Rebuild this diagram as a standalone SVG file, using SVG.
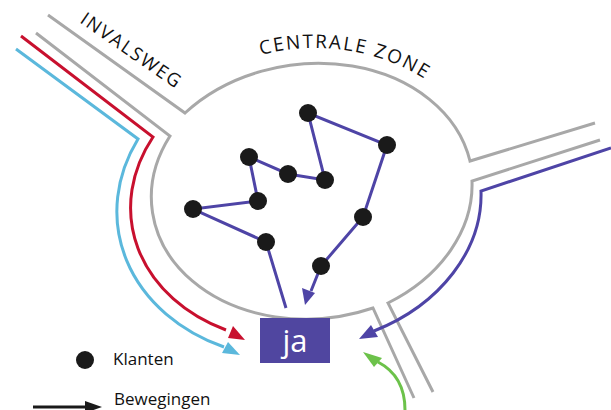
<svg xmlns="http://www.w3.org/2000/svg" width="611" height="410" viewBox="0 0 611 410">
<style>
.road{fill:none;stroke:#a8a8a8;stroke-width:3;stroke-linejoin:miter}
.mv{fill:none;stroke-width:3;stroke-linejoin:miter}
.dot{fill:#1a1a1a}
.lbl{font-family:"Open Sans","Noto Sans","Liberation Sans",sans-serif;fill:#111111}
</style>
<defs>
<path id="arcText" d="M134,200 A181 152 0 0 1 496,200"/>
</defs>
<rect width="611" height="410" fill="#ffffff"/>
<g id="roads">
<path class="road" d="M48,15 L185,113 A166 130 -8 0 1 470,161 L595,123"/>
<path class="road" d="M600,140 L472,181 A166 130 -8 0 1 388,303 L433,392"/>
<path class="road" d="M414,398 L373,308 A166 130 -8 0 1 170,136 L36,33"/>
</g>
<g id="labels">
<text class="lbl" font-size="18.5" transform="translate(79,22) rotate(34.6)" textLength="117" lengthAdjust="spacing">INVALSWEG</text>
<text class="lbl" font-size="19" letter-spacing="1.9"><textPath href="#arcText" startOffset="207">CENTRALE ZONE</textPath></text>
</g>
<g id="connectors">
<path class="mv" stroke="#c8102e" d="M21,36 L153,137 A179 143 -8 0 0 226,330"/>
<polygon fill="#c8102e" points="245,340 233,326 228,338"/>
<path class="mv" stroke="#5bb8dc" d="M16,49 L138,139 A192 156 -8 0 0 224,347"/>
<polygon fill="#5bb8dc" points="240,355 228,342 222,353"/>
<path class="mv" stroke="#4e44a6" d="M611,148 L481,191 A177 142 -8 0 1 374,331"/>
<polygon fill="#4e44a6" points="359,339 371,325 378,337"/>
<path class="mv" stroke="#6cc24a" d="M405,410 C405,390 397,372 378,362"/>
<polygon fill="#6cc24a" points="363,352 382,358 374,367"/>
<path class="mv" stroke="#4e44a6" d="M286,308 L266,242 L193,209 L258,201 L249,157 L288,174 L325,180 L308,113 L387,145 L363,217 L321,266 L311,291"/>
<polygon fill="#4e44a6" points="305,305 302,288 315,293"/>
</g>
<g id="customers">
<circle class="dot" cx="308" cy="113" r="9"/>
<circle class="dot" cx="387" cy="145" r="9"/>
<circle class="dot" cx="249" cy="157" r="9"/>
<circle class="dot" cx="288" cy="174" r="9"/>
<circle class="dot" cx="325" cy="180" r="9"/>
<circle class="dot" cx="258" cy="201" r="9"/>
<circle class="dot" cx="193" cy="209" r="9"/>
<circle class="dot" cx="363" cy="217" r="9"/>
<circle class="dot" cx="266" cy="242" r="9"/>
<circle class="dot" cx="321" cy="266" r="9"/>
</g>
<g id="ja">
<rect x="260" y="318" width="70" height="45" fill="#5046a0"/>
<text x="295" y="352" font-family="Open Sans, Noto Sans, sans-serif" font-size="31" fill="#ffffff" text-anchor="middle">ja</text>
</g>
<g id="legend">
<circle class="dot" cx="85" cy="360" r="9"/>
<text class="lbl" x="113" y="365" font-size="17">Klanten</text>
<line x1="33" y1="407" x2="86" y2="407" stroke="#1a1a1a" stroke-width="3"/>
<polygon fill="#1a1a1a" points="85,401 102,407 85,413"/>
<text class="lbl" x="114" y="405" font-size="17">Bewegingen</text>
</g>
</svg>
